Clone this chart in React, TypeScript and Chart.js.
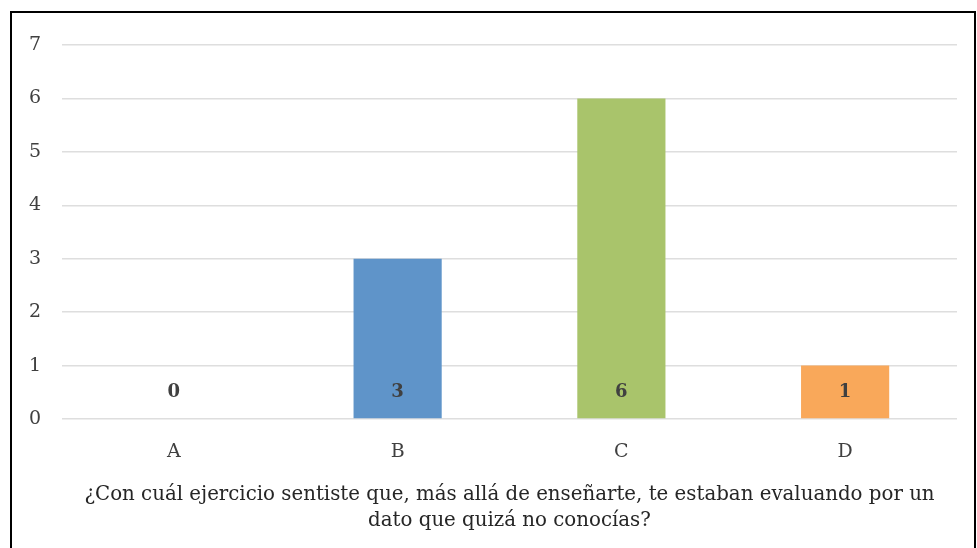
import React, { useEffect, useRef } from "react";
import { Chart, registerables } from "chart.js";

Chart.register(...registerables);

const categories = ["A", "B", "C", "D"];
const values = [0, 3, 6, 1];
const barColors = ["#5f94c9", "#5f94c9", "#a9c46b", "#f9a85a"];
const axisTitle = [
  "¿Con cuál ejercicio sentiste que, más allá de enseñarte, te estaban evaluando por un",
  "dato que quizá no conocías?",
];

const FONT = "'DejaVu Serif', serif";

// Value labels sit inside each bar, a fixed distance above the zero line.
const valueLabels = {
  id: "valueLabels",
  afterDatasetsDraw(chart: any) {
    const { ctx } = chart;
    const yScale = chart.scales.y;
    const base = yScale.getPixelForValue(0);
    const meta = chart.getDatasetMeta(0);
    ctx.save();
    ctx.font = `bold 18px ${FONT}`;
    ctx.fillStyle = "#404040";
    ctx.textAlign = "center";
    ctx.textBaseline = "middle";
    meta.data.forEach((bar: any, i: number) => {
      ctx.fillText(String(values[i]), bar.x, base - 27);
    });
    ctx.restore();
  },
};

export default function App() {
  const ref = useRef<HTMLCanvasElement>(null);

  useEffect(() => {
    if (!ref.current) return;
    const chart = new Chart(ref.current, {
      type: "bar",
      data: {
        labels: categories,
        datasets: [
          {
            data: values,
            backgroundColor: barColors,
            borderWidth: 0,
            categoryPercentage: 1,
            barPercentage: 0.394,
          },
        ],
      },
      options: {
        responsive: false,
        animation: false,
        layout: { padding: { left: 10, right: 20, top: 45, bottom: 0 } },
        plugins: {
          legend: { display: false },
          tooltip: { enabled: false },
        },
        scales: {
          x: {
            grid: { display: false, drawTicks: false },
            border: { display: false },
            ticks: {
              color: "#404040",
              padding: 22,
              font: { family: FONT, size: 19 },
            },
            title: {
              display: true,
              text: axisTitle,
              color: "#262626",
              font: { family: FONT, size: 19.8, lineHeight: 26 / 19.8 },
              padding: { top: 0, bottom: 14 },
            },
            afterFit(scale: any) {
              scale.height = 129;
            },
          },
          y: {
            min: 0,
            max: 7,
            ticks: {
              stepSize: 1,
              color: "#404040",
              padding: 21,
              font: { family: FONT, size: 19 },
            },
            grid: { color: "#dedede", lineWidth: 1.5, drawTicks: false },
            border: { display: false },
            afterFit(scale: any) {
              scale.width = 52;
            },
          },
        },
      },
      plugins: [valueLabels],
    });
    return () => chart.destroy();
  }, []);

  return (
    <div
      style={{
        position: "absolute",
        left: 0,
        top: 0,
        width: 977,
        height: 548,
        overflow: "hidden",
        background: "#fff",
      }}
    >
      <div
        style={{
          position: "absolute",
          left: 10,
          top: 11,
          width: 966,
          height: 600,
          border: "2px solid #000",
          boxSizing: "border-box",
        }}
      />
      <canvas
        ref={ref}
        width={977}
        height={548}
        style={{ position: "absolute", left: 0, top: 0 }}
      />
    </div>
  );
}
